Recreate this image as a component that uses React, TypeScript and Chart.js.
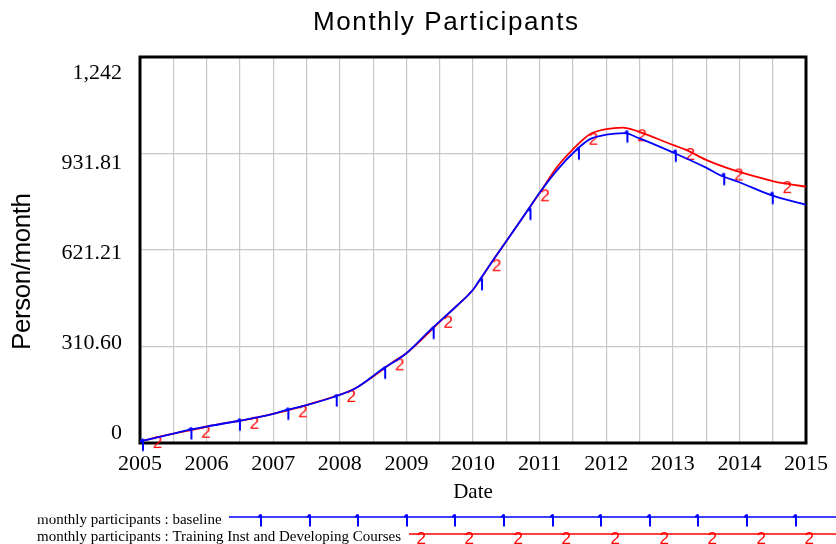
import React, { useEffect, useRef } from 'react';
import { Chart, registerables } from 'chart.js';

Chart.register(...registerables);

// ---------- data ----------
const chartTitle = 'Monthly Participants';
const yAxisTitle = 'Person/month';
const xAxisTitle = 'Date';
const xMin = 2005;
const xMax = 2015;
const xGridStep = 0.5;
const yMax = 1242;
const yTickValues = [0, 310.6, 621.21, 931.81, 1242];
const yTickLabels = ['0', '310.60', '621.21', '931.81', '1,242'];

const seriesLabels = [
  'monthly participants : baseline',
  'monthly participants : Training Inst and Developing Courses',
];

const baselineYears = [2005, 2005.5, 2005.727, 2006, 2006.455, 2007, 2007.182, 2007.5, 2007.909, 2008.25, 2008.636, 2009, 2009.364, 2009.75, 2010, 2010.091, 2010.291, 2010.5, 2010.818, 2011, 2011.25, 2011.545, 2011.75, 2012, 2012.273, 2012.5, 2013, 2013.5, 2013.727, 2014, 2014.455, 2015];
const baselineValues = [5, 30, 42, 53, 70, 94, 105, 122, 148, 178, 237, 289, 365, 440, 493, 522, 585, 649, 748, 805, 875, 942, 977, 992, 997, 980, 935, 886, 860, 839, 799, 766];
const baselineMarkerYears = [2005, 2005.727, 2006.455, 2007.182, 2007.909, 2008.636, 2009.364, 2010.091, 2010.818, 2011.545, 2012.273, 2013, 2013.727, 2014.455];

const trainingYears = [2005, 2005.2, 2005.5, 2005.927, 2006, 2006.655, 2007, 2007.382, 2007.5, 2008.109, 2008.25, 2008.836, 2009, 2009.564, 2009.75, 2010, 2010.291, 2010.5, 2010.818, 2011.018, 2011.25, 2011.5, 2011.745, 2012, 2012.25, 2012.473, 2013, 2013.2, 2013.5, 2013.927, 2014.5, 2014.655, 2015];
const trainingValues = [5, 16, 30, 49, 53, 78, 94, 115, 122, 164, 178, 266, 289, 403, 440, 493, 585, 649, 748, 810, 885, 945, 992, 1010, 1015, 1003, 959, 943, 911, 877, 843, 836, 825];
const trainingMarkerYears = [2005.2, 2005.927, 2006.655, 2007.382, 2008.109, 2008.836, 2009.564, 2010.291, 2011.018, 2011.745, 2012.473, 2013.2, 2013.927, 2014.655];

const BLUE = '#0000ff';
const RED = '#ff0000';
const SANS = 'Arial, "Liberation Sans", sans-serif';
const SERIF = '"Liberation Serif", "Times New Roman", serif';

// marker "1": stem with a small flag (drawn as a path)
function makeOneMarker(color: string) {
  const c = document.createElement('canvas');
  c.width = 40;
  c.height = 40;
  const g = c.getContext('2d')!;
  g.strokeStyle = color;
  g.lineWidth = 2;
  const sx = 23;
  const top = 17.5;
  g.beginPath();
  g.moveTo(sx, top);
  g.lineTo(sx, top + 12);
  g.moveTo(sx, top);
  g.lineTo(sx - 2.8, top + 2.8);
  g.stroke();
  return c;
}

// marker "2": text glyph
function makeTwoMarker(color: string, fontPx: number) {
  const c = document.createElement('canvas');
  c.width = 40;
  c.height = 40;
  const g = c.getContext('2d')!;
  g.font = `${fontPx}px ${SANS}`;
  g.fillStyle = color;
  g.textAlign = 'left';
  g.textBaseline = 'alphabetic';
  const by = 20 - 2.5 + fontPx * 0.716;
  g.fillText('2', 19.5, by);
  return c;
}

export default function App() {
  const ref = useRef<HTMLCanvasElement>(null);

  useEffect(() => {
    document.body.style.margin = '0';
    const canvas = ref.current!;
    const glyph1 = makeOneMarker(BLUE);
    const glyph2 = makeTwoMarker(RED, 17);

    const decor = {
      id: 'decor',
      beforeDatasetsDraw(chart: any) {
        const { ctx, chartArea } = chart;
        const { left, right, top, bottom } = chartArea;
        ctx.save();
        ctx.strokeStyle = '#000';
        ctx.lineWidth = 3;
        ctx.strokeRect(left, top, right - left, bottom - top);
        ctx.restore();
      },
      afterDraw(chart: any) {
        const { ctx, chartArea } = chart;
        const { left, right, top, bottom } = chartArea;
        ctx.save();
        ctx.fillStyle = '#000';

        // title
        ctx.font = `26px ${SANS}`;
        ctx.textAlign = 'left';
        ctx.textBaseline = 'alphabetic';
        (ctx as any).letterSpacing = '0px';
        const tw = ctx.measureText(chartTitle).width;
        const tsp = (265 - tw) / (chartTitle.length - 1);
        (ctx as any).letterSpacing = `${tsp}px`;
        ctx.fillText(chartTitle, 313, 29.5);
        (ctx as any).letterSpacing = '0px';

        // y axis title
        ctx.save();
        ctx.font = `26px ${SANS}`;
        const yw = ctx.measureText(yAxisTitle).width;
        const ysp = (157 - yw) / (yAxisTitle.length - 1);
        (ctx as any).letterSpacing = `${ysp}px`;
        ctx.translate(22.5, 350);
        ctx.rotate(-Math.PI / 2);
        ctx.textAlign = 'left';
        ctx.textBaseline = 'middle';
        ctx.fillText(yAxisTitle, 0, 0);
        ctx.restore();
        (ctx as any).letterSpacing = '0px';

        // y tick labels
        ctx.font = `22px ${SERIF}`;
        ctx.textAlign = 'right';
        ctx.textBaseline = 'middle';
        const yLo = bottom - 9.5;
        const yHi = top + 16;
        yTickValues.forEach((v, i) => {
          const f = v / yMax;
          ctx.fillText(yTickLabels[i], 122, yLo + (yHi - yLo) * f);
        });

        // x axis title
        ctx.font = `21px ${SERIF}`;
        ctx.textAlign = 'center';
        ctx.fillText(xAxisTitle, (left + right) / 2, 492);

        // legend
        ctx.font = `15px ${SERIF}`;
        ctx.textAlign = 'left';
        ctx.textBaseline = 'alphabetic';
        ctx.fillText(seriesLabels[0], 37, 523.5);
        ctx.fillText(seriesLabels[1], 37, 540.5);
        ctx.fillStyle = '#fff';
        ctx.fillRect(33, 505, 22, 12.5);

        ctx.lineWidth = 1.6;
        ctx.strokeStyle = BLUE;
        ctx.beginPath();
        ctx.moveTo(229, 517);
        ctx.lineTo(836, 517);
        ctx.stroke();
        for (let x = 261; x < 836; x += 48.6) {
          ctx.drawImage(glyph1, Math.round(x - 3) - 20, 517 - 20);
        }
        ctx.strokeStyle = RED;
        ctx.beginPath();
        ctx.moveTo(409, 534);
        ctx.lineTo(836, 534);
        ctx.stroke();
        for (let x = 421; x < 840; x += 48.6) {
          ctx.drawImage(glyph2, Math.round(x - 4.5) - 20, 534 - 20);
        }
        ctx.restore();
      },
    };

    const baselineData = baselineYears.map((x, i) => ({ x, y: baselineValues[i] }));
    const trainingData = trainingYears.map((x, i) => ({ x, y: trainingValues[i] }));

    const chart = new Chart(canvas, {
      type: 'line',
      data: {
        datasets: [
          {
            label: seriesLabels[0],
            data: baselineData,
            borderColor: BLUE,
            backgroundColor: BLUE,
            borderWidth: 1.8,
            cubicInterpolationMode: 'monotone',
            pointStyle: glyph1 as any,
            pointRadius: (c: any) => (baselineMarkerYears.includes(c.raw?.x) ? 4 : 0),
            clip: false as any,
          },
          {
            label: seriesLabels[1],
            data: trainingData,
            borderColor: RED,
            backgroundColor: RED,
            borderWidth: 1.8,
            cubicInterpolationMode: 'monotone',
            pointStyle: glyph2 as any,
            pointRadius: (c: any) => (trainingMarkerYears.includes(c.raw?.x) ? 4 : 0),
            clip: false as any,
          },
        ],
      },
      options: {
        responsive: false,
        animation: false,
        events: [],
        layout: { padding: { top: 57, right: 26, left: 0, bottom: 0 } },
        plugins: {
          legend: { display: false },
          title: { display: false },
          tooltip: { enabled: false },
        },
        scales: {
          x: {
            type: 'linear',
            min: xMin,
            max: xMax,
            afterFit: (s: any) => { s.height = 101; },
            ticks: {
              stepSize: xGridStep,
              autoSkip: false,
              maxRotation: 0,
              padding: 8,
              color: '#000',
              font: { family: SERIF, size: 22 },
              callback: (v: any) => (Number.isInteger(Number(v)) ? String(v) : ''),
            },
            grid: { color: '#c8c8c8', lineWidth: 1.2, drawTicks: false },
            border: { display: false },
          },
          y: {
            type: 'linear',
            min: 0,
            max: yMax,
            afterFit: (s: any) => { s.width = 140; },
            afterBuildTicks: (s: any) => { s.ticks = yTickValues.map((v) => ({ value: v })); },
            ticks: { display: false },
            grid: { color: '#c8c8c8', lineWidth: 1.2, drawTicks: false },
            border: { display: false },
          },
        },
      },
      plugins: [decor],
    });

    return () => chart.destroy();
  }, []);

  return <canvas ref={ref} width={836} height={544} style={{ display: 'block', width: 836, height: 544 }} />;
}
